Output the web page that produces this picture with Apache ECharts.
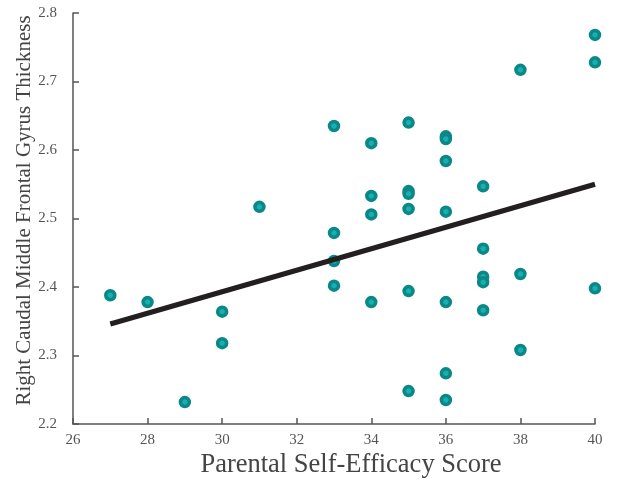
<!DOCTYPE html>
<html><head><meta charset="utf-8">
<script src="https://cdn.jsdelivr.net/npm/echarts@6/dist/echarts.min.js"></script>
<style>html,body{margin:0;padding:0;background:#fff}#c{width:617px;height:486px}</style>
</head><body><div id="c"></div>
<script>
var scoreX = [27,28,29,30,30,31,33,33,33,33,34,34,34,34,35,35,35,35,35,35,36,36,36,36,36,36,36,37,37,37,37,37,38,38,38,40,40,40];
var thickY = [2.388,2.378,2.232,2.364,2.318,2.517,2.635,2.479,2.438,2.402,2.610,2.533,2.506,2.378,2.640,2.540,2.536,2.514,2.394,2.248,2.620,2.616,2.584,2.510,2.378,2.274,2.235,2.547,2.456,2.415,2.407,2.366,2.717,2.419,2.308,2.768,2.728,2.398];
var fitX = [27,40];
var fitY = [2.346,2.550];
var xTicks = [26,28,30,32,34,36,38,40];
var yTicks = [2.2,2.3,2.4,2.5,2.6,2.7,2.8];

var pts = scoreX.map(function(x,i){return [x,thickY[i]];});
var fit = fitX.map(function(x,i){return [x,fitY[i]];});
var font = '"Liberation Serif","DejaVu Serif",serif';
var chart = echarts.init(document.getElementById('c'));
chart.setOption({
  animation:false,
  grid:{left:73,right:22,top:13,bottom:62,containLabel:false},
  xAxis:{type:'value',min:26,max:40,interval:2,
    name:'Parental Self-Efficacy Score',nameLocation:'middle',nameGap:28,nameMoveOverlap:false,
    nameTextStyle:{fontFamily:font,fontSize:26.5,color:'#444',padding:[0,0,0,34]},
    axisLine:{show:true,lineStyle:{color:'#555',width:1.5}},
    axisTick:{show:true,inside:true,length:6,lineStyle:{color:'#555',width:1.5}},
    axisLabel:{fontFamily:font,fontSize:15,color:'#555',margin:9,
      formatter:function(v){return xTicks.indexOf(v)>=0?String(v):'';}},
    splitLine:{show:false}},
  yAxis:{type:'value',min:2.2,max:2.8,interval:0.1,
    name:'Right Caudal Middle Frontal Gyrus Thickness',nameLocation:'middle',nameGap:38,nameMoveOverlap:false,
    nameTextStyle:{fontFamily:font,fontSize:21,color:'#444',padding:[0,0,0,16]},
    axisLine:{show:true,lineStyle:{color:'#555',width:1.5}},
    axisTick:{show:true,inside:true,length:6,lineStyle:{color:'#555',width:1.5}},
    axisLabel:{fontFamily:font,fontSize:15,color:'#555',margin:16,
      formatter:function(v){var s=v.toFixed(1);return yTicks.indexOf(parseFloat(s))>=0?s:'';}},
    splitLine:{show:false}},
  series:[
    {type:'scatter',data:pts,symbol:'circle',symbolSize:9,z:2,
      itemStyle:{color:'#15b0b0',borderColor:'#0a8786',borderWidth:3.5,opacity:1}},
    {type:'line',data:fit,symbol:'none',z:3,
      lineStyle:{color:'#231f20',width:5}}
  ]
});
</script></body></html>
